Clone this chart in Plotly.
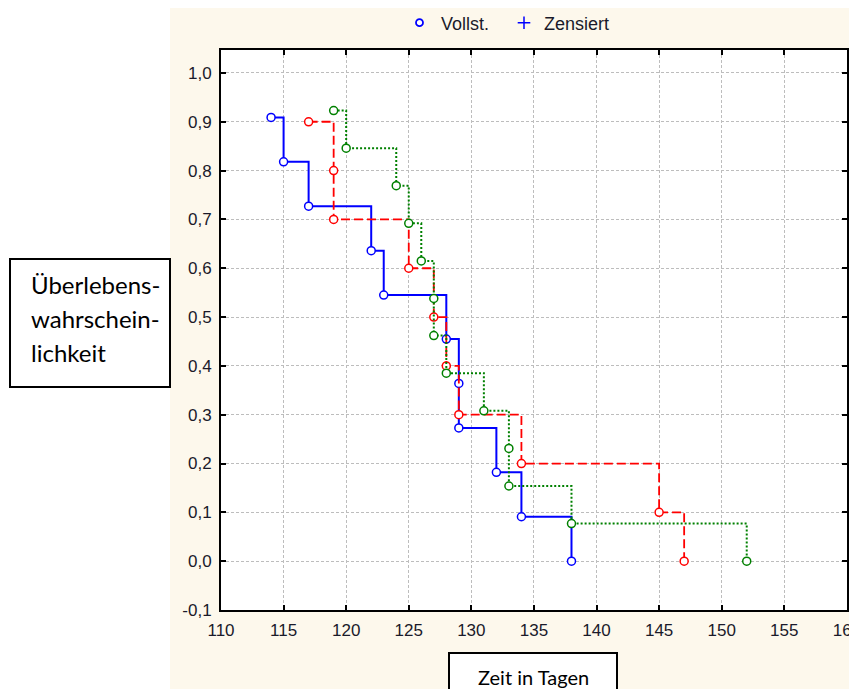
import plotly.graph_objects as go

# ---- data ----
blue_t = [114, 115, 117, 122, 123, 128, 129, 129, 132, 134, 138]
blue_s = [0.909, 0.818, 0.727, 0.636, 0.545, 0.455, 0.364, 0.273, 0.182, 0.091, 0.0]

red_t = [117, 119, 119, 125, 127, 128, 129, 134, 145, 147]
red_s = [0.9, 0.8, 0.7, 0.6, 0.5, 0.4, 0.3, 0.2, 0.1, 0.0]

green_t = [119, 120, 124, 125, 126, 127, 127, 128, 131, 133, 133, 138, 152]
green_s = [0.923, 0.846, 0.769, 0.692, 0.615, 0.538, 0.462, 0.385, 0.308, 0.231, 0.154, 0.077, 0.0]

x_ticks = [110, 115, 120, 125, 130, 135, 140, 145, 150, 155, 160]
y_ticks = [-0.1, 0.0, 0.1, 0.2, 0.3, 0.4, 0.5, 0.6, 0.7, 0.8, 0.9, 1.0]
y_ticktext = ["-0,1", "0,0", "0,1", "0,2", "0,3", "0,4", "0,5", "0,6", "0,7", "0,8", "0,9", "1,0"]

legend_names = ["Vollst.", "Zensiert"]

# ---- layout geometry (pixels in the 857x689 window) ----
OFF = 8                      # default body margin of the html page
W, H = 857, 689
L, R, T, B = 221, 847, 50, 610
PW, PH = R - L, B - T


def px2x(px):
    return (px - L) / PW


def py2y(py):
    return (B - py) / PH


BLUE = "#0000ff"
RED = "#ff0000"
GREEN = "#008000"

fig = go.Figure()

series = [
    (blue_t, blue_s, BLUE, "solid", 2),
    (red_t, red_s, RED, "9px,4px", 1.8),
    (green_t, green_s, GREEN, "2px,2px", 2),
]
for t, s, col, dash, w in series:
    fig.add_trace(go.Scatter(
        x=t, y=s, mode="lines+markers", line_shape="hv",
        line=dict(color=col, width=w, dash=dash),
        marker=dict(symbol="circle", size=8, color="white",
                    line=dict(color=col, width=1.5)),
        showlegend=False, hoverinfo="skip",
    ))

# legend-only traces
fig.add_trace(go.Scatter(
    x=[None], y=[None], mode="markers", name=legend_names[0], legend="legend",
    marker=dict(symbol="circle", size=7, color="white", line=dict(color=BLUE, width=1.8)),
))
fig.add_trace(go.Scatter(
    x=[None], y=[None], mode="markers", name=legend_names[1], legend="legend2",
    marker=dict(symbol="cross-thin", size=9, line=dict(color=BLUE, width=1.5)),
))

axis_common = dict(
    showline=True, linecolor="black", linewidth=2, mirror="ticks",
    ticks="inside", ticklen=5, tickwidth=2, tickcolor="black",
    showgrid=True, gridcolor="#bdbdbd", gridwidth=1, griddash="3px,2px",
    zeroline=False, ticklabeloverflow="allow",
    tickfont=dict(family="Liberation Sans", size=17, color="#1a1a2a"),
)

fig.update_xaxes(range=[110, 160.01], tickvals=x_ticks, ticktext=[str(v) for v in x_ticks],
                 ticklabelstandoff=4, **axis_common)
fig.update_yaxes(range=[-0.1, 1.047], tickvals=y_ticks,
                 ticktext=y_ticktext, ticklabelstandoff=4, **axis_common)

shapes = [
    # white strip at left
    dict(type="rect", xref="paper", yref="paper", x0=px2x(-20), x1=px2x(170),
         y0=py2y(H + 20), y1=py2y(-20), fillcolor="white", line=dict(width=0), layer="below"),
    # y label box
    dict(type="rect", xref="paper", yref="paper", x0=px2x(10), x1=px2x(170),
         y0=py2y(387), y1=py2y(259), fillcolor="white", line=dict(color="black", width=2)),
    # x label box
    dict(type="rect", xref="paper", yref="paper", x0=px2x(449), x1=px2x(617),
         y0=py2y(710), y1=py2y(653), fillcolor="white", line=dict(color="black", width=2)),
]

annotations = []
for txt, yy in [("Überlebens-", 284), ("wahrschein-", 318), ("lichkeit", 352)]:
    annotations.append(dict(text=txt, xref="paper", yref="paper", x=px2x(29), y=py2y(yy),
                            xanchor="left", yanchor="middle", showarrow=False,
                            font=dict(family="Lato", size=24, color="black")))
annotations.append(dict(text="Zeit in Tagen", xref="paper", yref="paper", x=px2x(533), y=py2y(677),
                        xanchor="center", yanchor="middle", showarrow=False,
                        font=dict(family="Lato", size=20, color="black")))

legend_font = dict(family="Liberation Sans", size=18, color="#1a1a2a")
fig.update_layout(
    width=W - OFF, height=H - OFF, autosize=False,
    margin=dict(l=L - OFF, r=W - R, t=T - OFF, b=H - B, autoexpand=False),
    paper_bgcolor="#fdf8ec", plot_bgcolor="white",
    shapes=shapes, annotations=annotations,
    legend=dict(orientation="h", x=px2x(398), y=py2y(23), xanchor="left", yanchor="middle",
                itemwidth=33, bgcolor="rgba(0,0,0,0)", font=legend_font),
    legend2=dict(orientation="h", x=px2x(504), y=py2y(23), xanchor="left", yanchor="middle",
                 itemwidth=30, bgcolor="rgba(0,0,0,0)", font=legend_font),
)

fig.write_html("out.html")
